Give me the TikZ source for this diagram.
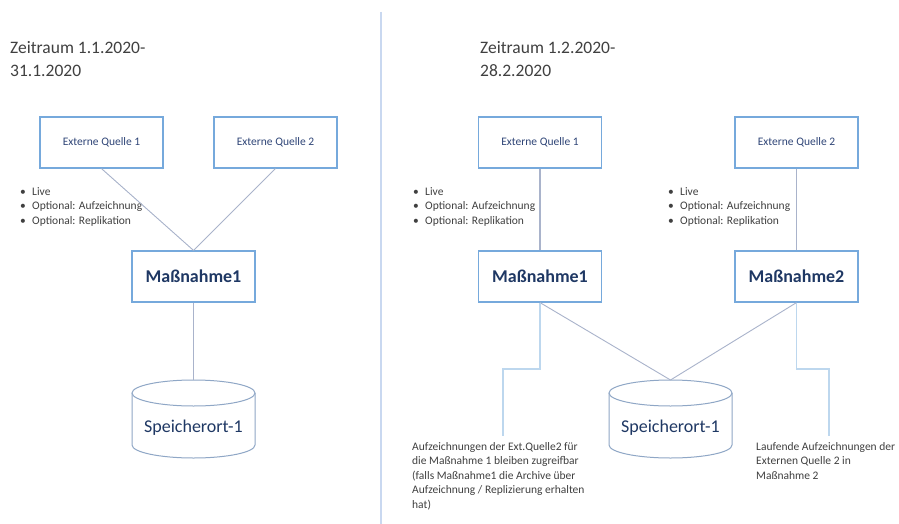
\documentclass[tikz,border=0pt]{standalone}
\usepackage{fontspec}
\setmainfont{Carlito}
\definecolor{boxblue}{HTML}{76A9DC}
\definecolor{navy}{HTML}{2F4577}
\definecolor{darknavy}{HTML}{1F3864}
\definecolor{conn}{HTML}{A9B3CB}
\definecolor{annot}{HTML}{BDD7EE}
\definecolor{divider}{HTML}{C9D8F0}
\definecolor{txtgray}{HTML}{404040}
\definecolor{cylline}{HTML}{8FA7C6}
\tikzset{
  srcbox/.style={draw=boxblue, line width=1.2pt, minimum width=123pt, minimum height=51pt, inner sep=0pt, text=navy, font=\fontsize{11.5}{14}\selectfont},
  mbox/.style={draw=boxblue, line width=1.2pt, minimum width=123pt, minimum height=51pt, inner sep=0pt, text=darknavy, font=\fontsize{18}{22}\selectfont\bfseries},
  connline/.style={draw=conn, line width=0.9pt},
  annline/.style={draw=annot, line width=1.4pt},
  cyl/.style={draw=cylline, line width=1pt},
  cyltext/.style={text=darknavy, font=\fontsize{18}{22}\selectfont, inner sep=0pt},
  titletext/.style={anchor=north west, inner sep=0pt, align=left, text=txtgray, font=\fontsize{17.5}{23}\selectfont},
  smalltext/.style={anchor=north west, inner sep=0pt, align=left, text=txtgray, font=\fontsize{11.5}{14.5}\selectfont},
}
\newcommand{\bul}[1]{\makebox[12pt][l]{\textbullet}#1}
\begin{document}
\begin{tikzpicture}[x=1pt,y=-1pt]
\useasboundingbox[fill=white] (0,0) rectangle (899,524);
% divider
\coordinate (dtop) at (381,12);
\coordinate (dbot) at (381,524);
\draw[divider, line width=1.5pt] (dtop) -- (dbot);

% ---------- left part ----------
\node[titletext] (t1) at (10,41) {Zeitraum 1.1.2020-\\31.1.2020};
\node[srcbox] (le1) at (101.5,142.5) {Externe Quelle 1};
\node[srcbox] (le2) at (275.5,142.5) {Externe Quelle 2};
\node[mbox] (lm1) at (193.5,276.5) {Maßnahme1};
\node[smalltext] (lb) at (20,187) {\bul{Live}\\\bul{Optional: Aufzeichnung}\\\bul{Optional: Replikation}};
% cylinder left
\draw[cyl] (132,393) -- (132,445) arc[start angle=180, end angle=0, x radius=61.5, y radius=13] -- (255,393);
\draw[cyl, fill=white] (193.5,393) ellipse [x radius=61.5, y radius=13];
\coordinate (lcyltop) at (193.5,380);
\node[cyltext] (ls1) at (193.5,428) {Speicherort-1};
\draw[connline] (le1.south) -- (lm1.north);
\draw[connline] (le2.south) -- (lm1.north);
\draw[connline, line width=1.4pt] (lm1.south) -- (lcyltop);

% ---------- right part ----------
\node[titletext] (t2) at (480,41) {Zeitraum 1.2.2020-\\28.2.2020};
\node[srcbox] (re1) at (540,142.5) {Externe Quelle 1};
\node[srcbox] (re2) at (796.5,142.5) {Externe Quelle 2};
\node[mbox] (rm1) at (540,276.5) {Maßnahme1};
\node[mbox] (rm2) at (796.5,276.5) {Maßnahme2};
\node[smalltext] (rb1) at (413,187) {\bul{Live}\\\bul{Optional: Aufzeichnung}\\\bul{Optional: Replikation}};
\node[smalltext] (rb2) at (668,187) {\bul{Live}\\\bul{Optional: Aufzeichnung}\\\bul{Optional: Replikation}};
\draw[cyl] (609,393) -- (609,445) arc[start angle=180, end angle=0, x radius=61.5, y radius=13] -- (732,393);
\draw[cyl, fill=white] (670.5,393) ellipse [x radius=61.5, y radius=13];
\coordinate (rcyltop) at (670.5,380);
\node[cyltext] (rs1) at (670.5,428) {Speicherort-1};
\draw[connline, line width=1.4pt] (re1.south) -- (rm1.north);
\draw[connline, line width=1.4pt] (re2.south) -- (rm2.north);
\draw[connline] (rm1.south) -- (rcyltop);
\draw[connline] (rm2.south) -- (rcyltop);
% annotations
\node[smalltext] (an1) at (412,442) {Aufzeichnungen der Ext.Quelle2 für\\die Maßnahme 1 bleiben zugreifbar\\(falls Maßnahme1 die Archive über\\Aufzeichnung / Replizierung erhalten\\hat)};
\node[smalltext] (an2) at (756,442) {Laufende Aufzeichnungen der\\Externen Quelle 2 in\\Maßnahme 2};
\coordinate (a1end) at (503,436);
\coordinate (a2end) at (829,436);
\draw[annline] (rm1.south) |- (503,369) -- (a1end);
\draw[annline] (rm2.south) |- (829,369) -- (a2end);
\end{tikzpicture}
\end{document}
